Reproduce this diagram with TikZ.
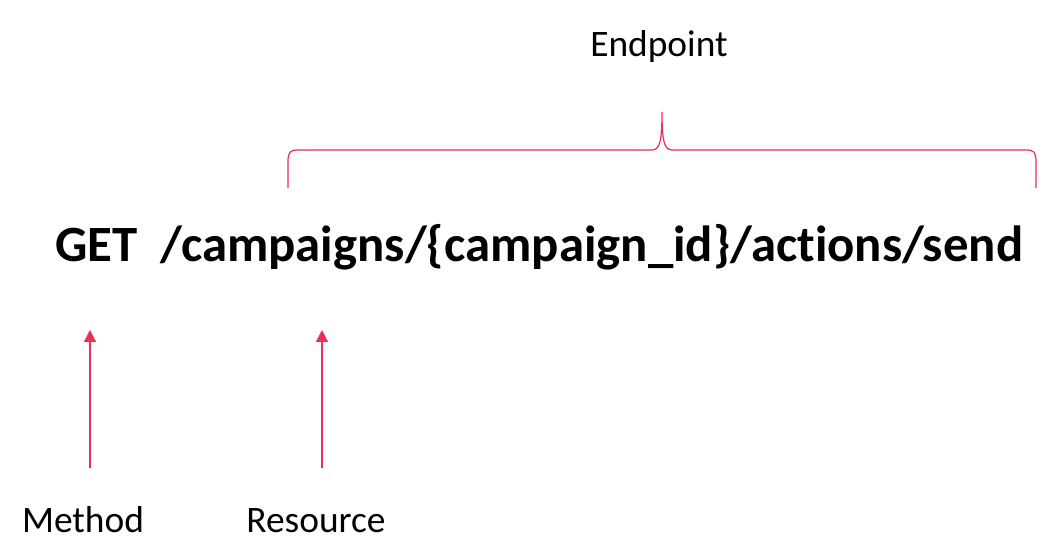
\documentclass[tikz,border=0pt]{standalone}
\usepackage{fontspec}
\setmainfont{Carlito}[Ligatures=NoCommon]
\usepackage{tikz}
\usetikzlibrary{
  positioning,
  arrows.meta
}
\definecolor{apired}{RGB}{236,45,85}

\begin{document}
\begin{tikzpicture}[
  x=0.5pt, y=-0.5pt,
  >={Triangle[width=6pt,length=6pt]},
  call/.style={font=\fontsize{25.4}{30}\selectfont\bfseries, inner sep=0pt},
  lbl/.style={font=\fontsize{18.7}{22}\selectfont, inner sep=0pt},
  arr/.style={->, apired, line width=0.6pt},
  brace/.style={apired, line width=0.6pt},
]
\useasboundingbox (0,0) rectangle (1060,560);

\node[call, anchor=base west] (call) at (55,262) {GET\ \ /campaigns/\{campaign\_id\}/actions/send};

\node[lbl, anchor=base] (endpoint) at (659,57) {Endpoint};
\node[lbl, anchor=base] (method) at (83,533) {Method};
\node[lbl, anchor=base] (resource) at (316,533) {Resource};

\coordinate (mtail) at (90,468);
\coordinate (mtip) at (90,330);
\coordinate (rtail) at (322,468);
\coordinate (rtip) at (322,330);

\coordinate (bl) at (288,188);
\coordinate (btip) at (662,112);
\coordinate (br) at (1036,188);

\draw[arr] (mtail) -- (mtip);
\draw[arr] (rtail) -- (rtip);

% brace over the endpoint
\draw[brace] (bl) -- (288,162) .. controls (288,152) and (290,150) .. (298,150)
  -- (652,150) .. controls (660,150) and (662,140) .. (btip)
  .. controls (662,140) and (664,150) .. (672,150)
  -- (1026,150) .. controls (1034,150) and (1036,152) .. (1036,162) -- (br);

\end{tikzpicture}
\end{document}
